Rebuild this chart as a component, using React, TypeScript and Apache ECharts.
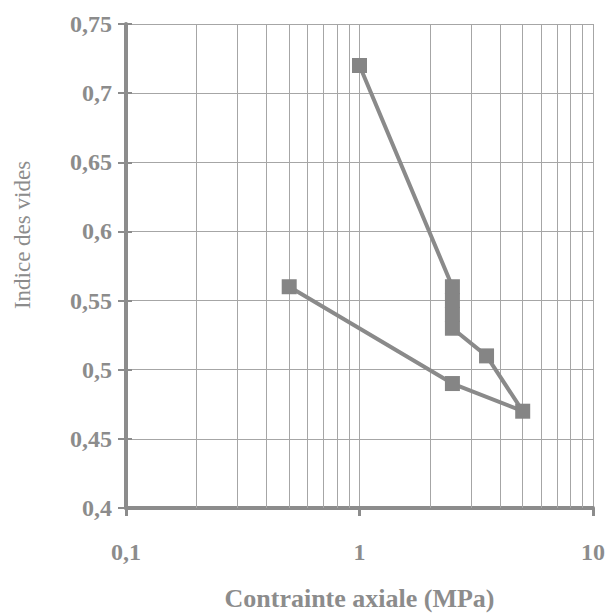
import React, { useEffect, useRef } from "react";
import * as echarts from "echarts";

const stress = [1, 2.5, 2.5, 2.5, 2.5, 3.5, 5, 2.5, 0.5];
const voidRatio = [0.72, 0.56, 0.55, 0.54, 0.53, 0.51, 0.47, 0.49, 0.56];
const minorXGrid = [0.2, 0.3, 0.4, 0.5, 0.6, 0.7, 0.8, 0.9, 2, 3, 4, 5, 6, 7, 8, 9];
const xTitle = "Contrainte axiale (MPa)";
const yTitle = "Indice des vides";

const GRAY = "#8c8c8c";
const GRID = "#a6a6a6";
const FONT = "Liberation Serif";

export default function App() {
  const ref = useRef<HTMLDivElement>(null);
  useEffect(() => {
    if (!ref.current) return;
    const chart = echarts.init(ref.current, undefined, { renderer: "svg" });
    const fmt = (v: number) => String(v).replace(".", ",");
    const yBase = { type: "value", min: 0.4, max: 0.75, interval: 0.05, position: "left" };
    chart.setOption({
      animation: false,
      backgroundColor: "#ffffff",
      textStyle: { fontFamily: FONT },
      grid: { left: 126, right: 17, top: 24, bottom: 107, outerBoundsMode: "none", containLabel: false },
      graphic: [
        {
          type: "text",
          x: 22,
          y: 235,
          rotation: Math.PI / 2,
          style: {
            text: yTitle,
            fill: GRAY,
            fontFamily: FONT,
            fontSize: 23,
            align: "center",
            verticalAlign: "middle",
          },
        },
      ],
      xAxis: {
        type: "log",
        logBase: 10,
        min: 0.1,
        max: 10,
        name: xTitle,
        nameLocation: "middle",
        nameGap: 77,
        nameTextStyle: { color: GRAY, fontFamily: FONT, fontSize: 26, fontWeight: "bold" },
        axisLine: { lineStyle: { color: GRAY, width: 4 } },
        axisTick: { show: true, length: 8, lineStyle: { color: GRAY, width: 3 } },
        axisLabel: { color: GRAY, fontFamily: FONT, fontSize: 24, fontWeight: "bold", margin: 32, formatter: fmt },
        splitLine: { show: true, lineStyle: { color: GRID, width: 1 } },
      },
      yAxis: [
        {
          ...yBase,
          axisLine: { show: true, lineStyle: { color: GRAY, width: 4 } },
          axisTick: { show: true, length: 8, lineStyle: { color: GRAY, width: 2 } },
          axisLabel: {
            color: GRAY,
            fontFamily: FONT,
            fontSize: 24,
            fontWeight: "bold",
            margin: 14,
            formatter: (v: number) => fmt(Math.round(v * 100) / 100),
          },
          splitLine: { show: true, lineStyle: { color: GRID, width: 1 } },
        },
        {
          ...yBase,
          axisLine: { show: false },
          axisTick: { show: true, inside: true, length: 6, lineStyle: { color: GRAY, width: 2 } },
          axisLabel: { show: false },
          splitLine: { show: false },
        },
      ],
      series: [
        {
          type: "line",
          xAxisIndex: 0,
          yAxisIndex: 0,
          data: stress.map((x, i) => [x, voidRatio[i]]),
          symbol: "rect",
          symbolSize: 15,
          itemStyle: { color: "#858585" },
          lineStyle: { color: "#8a8a8a", width: 4 },
          z: 5,
          markLine: {
            silent: true,
            symbol: "none",
            label: { show: false },
            lineStyle: { color: GRID, width: 1, type: "solid" },
            data: minorXGrid.map((x) => ({ xAxis: x })),
            z: 1,
          },
        },
      ],
    });
    return () => chart.dispose();
  }, []);
  return <div ref={ref} style={{ width: 610, height: 615, position: "absolute", left: 0, top: 0 }} />;
}
